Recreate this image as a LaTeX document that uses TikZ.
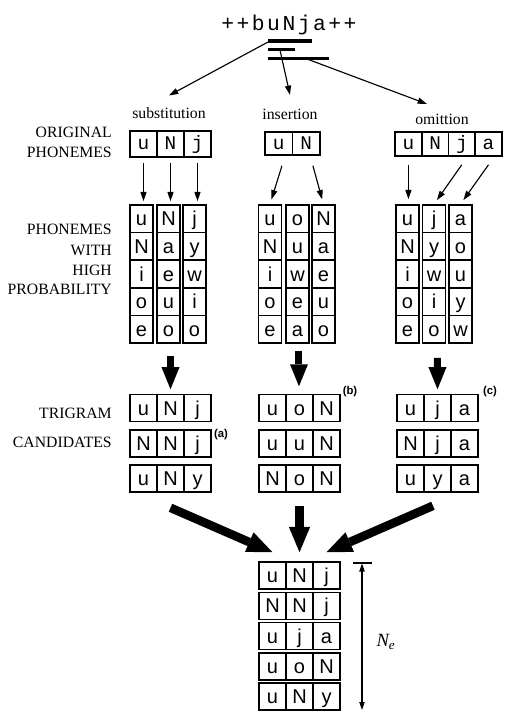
\documentclass[tikz,border=0pt]{standalone}
\usepackage{fontspec}
\setmainfont{Liberation Serif}
\newfontfamily\monof{Liberation Mono}
\newfontfamily\sansf{Liberation Sans}
\usetikzlibrary{arrows.meta}
\newcommand{\cellrow}[6]{\foreach \ch [count=\i] in {#6}{\pgfmathsetmacro\xx{#3+(\i-1)*(#5)}\node[#2] (#1\i) at (\xx,#4) {\ch};}}
\newcommand{\cellcol}[6]{\foreach \ch [count=\i] in {#6}{\pgfmathsetmacro\yy{#4+(\i-1)*(#5)}\node[#2] (#1\i) at (#3,\yy) {\ch};}}
\begin{document}
\begin{tikzpicture}[x=0.75pt,y=-0.75pt,
  lab/.style={inner sep=0pt, anchor=east, font=\fontsize{11.8}{12}\selectfont},
  op/.style={inner sep=0pt, anchor=base, font=\fontsize{11.8}{12}\selectfont},
  topch/.style={inner sep=0pt, anchor=base, font=\monof\fontsize{16}{16}\selectfont},
  mcell/.style={draw, line width=1.15pt, inner sep=0pt, minimum width=20.25pt, font=\monof\fontsize{14.5}{14.5}\selectfont, text height=8.4pt, text depth=0pt},
  scell/.style={draw, line width=1.15pt, inner sep=0pt, minimum width=17.25pt, minimum height=20.7pt, font=\sansf\fontsize{15}{15}\selectfont, text height=10.7pt, text depth=0pt},
  tcell/.style={scell, minimum width=20.25pt, minimum height=20.25pt},
  thinarr/.style={line width=0.85pt, -{Triangle[length=7pt,width=4.5pt]}},
  fatarr/.style={line width=5.25pt, -{Triangle[length=16.5pt,width=13.5pt,line width=0pt]}},
  bigarr/.style={line width=6.5pt, -{Triangle[length=19pt,width=16pt,line width=0pt]}},
  bar/.style={line width=2.3pt},
  tag/.style={inner sep=0pt, font=\sansf\bfseries\fontsize{8.5}{8.5}\selectfont}
]
\useasboundingbox[fill=white] (0,0) rectangle (504,711);

% top word
\foreach \ch [count=\i from 0] in {+,+,b,u,N,j,a,+,+}{\node[topch] (t\i) at (227.7+15.3*\i,30) {\ch};}
\draw[bar] (268,41) -- (312,41);
\draw[bar] (268,49.5) -- (295,49.5);
\draw[bar] (268,58.5) -- (329,58.5);
\coordinate (b1) at (268,42);
\coordinate (b2) at (280,50);
\coordinate (b3) at (307,59);

% operation labels
\node[op] (lsub) at (169,118) {substitution};
\node[op] (lins) at (290,119) {insertion};
\node[op] (lom) at (442,124) {omittion};
\draw[thinarr] (b1) -- ([yshift=8.5pt]lsub.north);
\draw[thinarr] (b2) -- ([yshift=10pt]lins.north);
\draw[thinarr] (b3) -- ([xshift=-11.25pt,yshift=7pt]lom.north);

% left labels
\node[lab] (l1) at (112,132) {ORIGINAL};
\node[lab] (l2) at (112,152) {PHONEMES};
\node[lab] (l3) at (112,229) {PHONEMES};
\node[lab] (l4) at (112,250) {WITH};
\node[lab] (l5) at (112,270) {HIGH};
\node[lab] (l6) at (112,289) {PROBABILITY};
\node[lab] (l7) at (112,413) {TRIGRAM};
\node[lab] (l8) at (112,442) {CANDIDATES};

% original phonemes
\cellrow{so}{mcell, minimum height=19.5pt}{143.5}{144}{27}{u,N,j}
\cellrow{io}{mcell, minimum height=17.25pt, minimum width=20.6pt}{278.75}{143.5}{27.5}{u,N}
\cellrow{oo}{mcell, minimum height=18pt, minimum width=20pt}{408.4}{144}{26.7}{u,N,j,a}

% phonemes with high probability
\cellcol{sA}{scell}{141.5}{218.8}{27.6}{u,N,i,o,e}
\cellcol{sB}{scell}{168.5}{218.8}{27.6}{N,a,e,u,o}
\cellcol{sC}{scell}{194.5}{218.8}{27.6}{j,y,w,i,o}
\cellcol{iA}{scell}{270}{218.8}{27.6}{u,N,i,o,e}
\cellcol{iB}{scell}{297.5}{218.8}{27.6}{o,u,w,e,a}
\cellcol{iC}{scell}{323.5}{218.8}{27.6}{N,a,e,u,o}
\cellcol{oA}{scell}{407.5}{218.8}{27.6}{u,N,i,o,e}
\cellcol{oB}{scell}{434}{218.8}{27.6}{j,y,w,i,o}
\cellcol{oC}{scell}{460.5}{218.8}{27.6}{a,o,u,y,w}

% thin arrows
\draw[thinarr, shorten >=2.25pt] ([yshift=-3.75pt]so1.south) -- (so1.south |- sA1.north);
\draw[thinarr, shorten >=2.25pt] ([yshift=-3.75pt]so2.south) -- (so2.south |- sB1.north);
\draw[thinarr, shorten >=2.25pt] ([yshift=-3.75pt]so3.south) -- (so3.south |- sC1.north);
\draw[thinarr, shorten >=3.75pt] ([xshift=2.4pt,yshift=-7.5pt]io1.south) -- (iA1.north);
\draw[thinarr, shorten >=3.75pt] ([xshift=5pt,yshift=-7.5pt]io2.south) -- (iC1.north);
\draw[thinarr, shorten >=3.75pt] ([yshift=-6pt]oo1.south) -- (oo1.south |- oA1.north);
\draw[thinarr, shorten >=3.75pt] ([yshift=-6pt]oo3.south) -- (oB1.north);
\draw[thinarr, shorten >=3.75pt] ([yshift=-6pt]oo4.south) -- (oC1.north);

% trigram candidates
\cellrow{stA}{tcell}{143.5}{408}{27}{u,N,j}
\cellrow{stB}{tcell}{143.5}{443.5}{27}{N,N,j}
\cellrow{stC}{tcell}{143.5}{478.5}{27}{u,N,y}
\cellrow{itA}{tcell}{272.5}{408}{27}{u,o,N}
\cellrow{itB}{tcell}{272.5}{443.5}{27}{u,u,N}
\cellrow{itC}{tcell}{272.5}{478.5}{27}{N,o,N}
\cellrow{otA}{tcell}{410.5}{408}{27}{u,j,a}
\cellrow{otB}{tcell}{410.5}{443.5}{27}{N,j,a}
\cellrow{otC}{tcell}{410.5}{478.5}{27}{u,y,a}
\node[tag] (ta) at (221,435) {(a)};
\node[tag] (tb) at (350,392) {(b)};
\node[tag] (tc) at (490,392) {(c)};

% fat down arrows
\draw[fatarr, shorten >=3.4pt] ([xshift=1.5pt,yshift=-9pt]sB5.south) -- ([xshift=1.5pt]sB5.south |- stA2.north);
\draw[fatarr, shorten >=5.6pt] ([xshift=1.1pt,yshift=-5.25pt]iB5.south) -- ([xshift=1.1pt]iB5.south |- itA2.north);
\draw[fatarr, shorten >=3.4pt] ([xshift=2.6pt,yshift=-10.5pt]oB5.south) -- (otA2.north);

% final candidates
\cellrow{fA}{tcell}{272.5}{575.5}{27}{u,N,j}
\cellrow{fB}{tcell}{272.5}{605.8}{27}{N,N,j}
\cellrow{fC}{tcell}{272.5}{636.1}{27}{u,j,a}
\cellrow{fD}{tcell}{272.5}{666.4}{27}{u,o,N}
\cellrow{fE}{tcell}{272.5}{696.7}{27}{u,N,y}

% converging arrows
\draw[bigarr] ([yshift=-11.25pt]stC2.south) -- ([yshift=6.75pt]fA1.north);
\draw[bigarr] ([yshift=-9.75pt]itC2.south) -- ([yshift=6.75pt]fA2.north);
\draw[bigarr] ([xshift=-3.4pt,yshift=-9.75pt]otC2.south) -- ([yshift=6.75pt]fA3.north);

% N_e dimension
\coordinate (nt) at (362,563.5);
\coordinate (nb) at (362,710);
\coordinate (nl) at (353,563);
\coordinate (nr) at (372,563);
\draw[line width=1.2pt] (nl) -- (nr);
\draw[line width=0.8pt, {Triangle[length=6pt,width=4pt]}-{Triangle[length=6pt,width=4pt]}] (nt) -- (nb);
\node[inner sep=0pt, font=\fontsize{14}{14}\selectfont] (ne) at (386,642) {\itshape N\textsubscript{e}};
\end{tikzpicture}
\end{document}
